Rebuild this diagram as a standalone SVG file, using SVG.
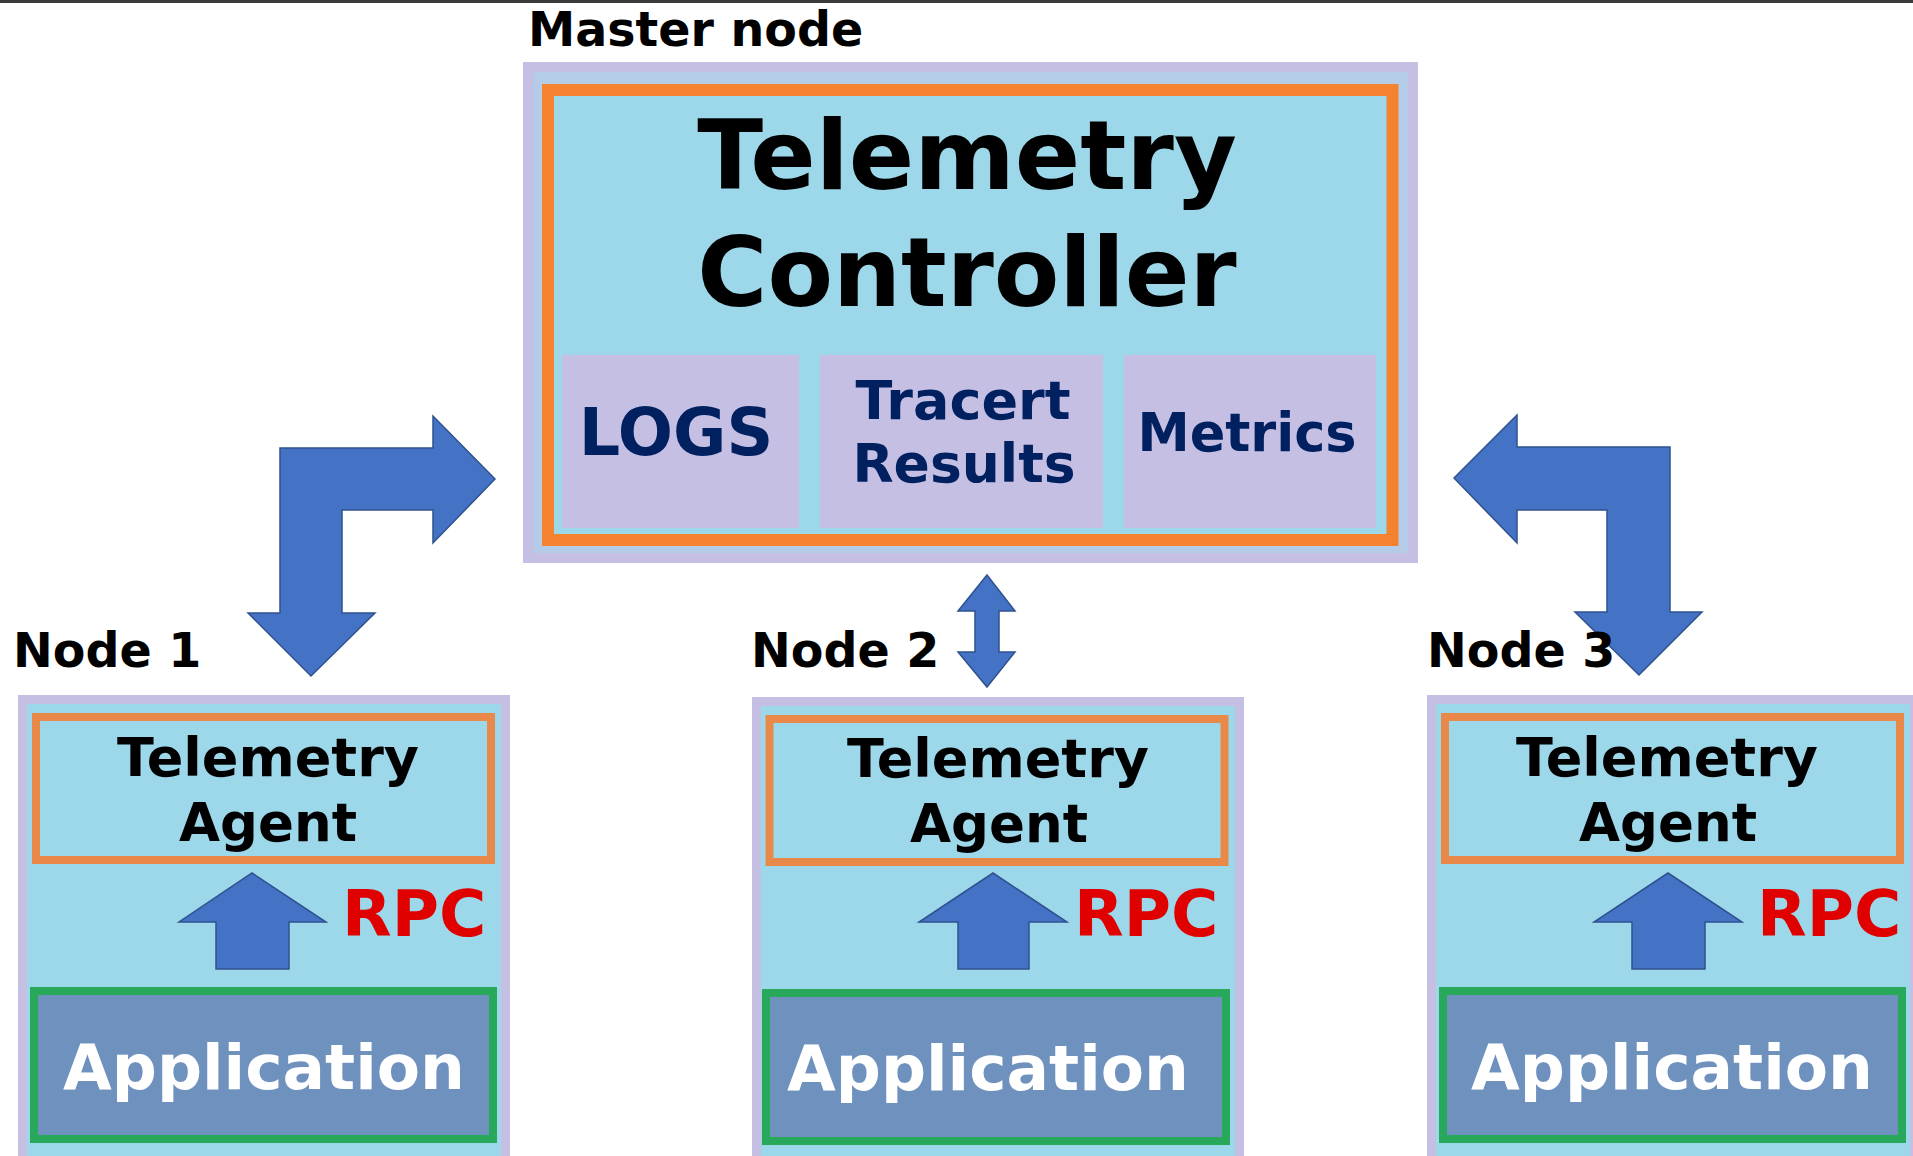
<svg xmlns="http://www.w3.org/2000/svg" width="1913" height="1156" viewBox="0 0 1913 1156">
<style>
text{font-family:"DejaVu Sans","Verdana","Liberation Sans",sans-serif;font-weight:bold}
.lav{fill:#C6BFE4}
.lb{fill:#9CD8EA}
.sub{fill:#C6BFE4}
.navy{fill:#002060}
.blk{fill:#000}
.red{fill:#E00000}
.wht{fill:#fff}
.arr{fill:#4472C4;stroke:#2F528F;stroke-width:1.5;stroke-linejoin:miter}
.agent{fill:#9CD8EA;stroke:#E8894A;stroke-width:8}
.app{fill:#6F91BE;stroke:#28A85A;stroke-width:8}
</style>
<rect x="0" y="0" width="1913" height="1156" fill="#fff"/>
<rect x="0" y="0" width="1913" height="3" fill="#3a3a3a"/>

<g id="master">
<text x="528" y="46" font-size="47.5" class="blk">Master node</text>
<rect x="523" y="62" width="895" height="501" class="lav"/>
<rect x="533" y="72" width="875" height="481" fill="#B4CCE8"/>
<rect x="548" y="90" width="844.5" height="450" fill="#9CD8EA" stroke="#F5822F" stroke-width="12"/>
<text x="967" y="189" font-size="96.5" text-anchor="middle" class="blk">Telemetry</text>
<text x="967" y="306" font-size="95.5" text-anchor="middle" class="blk">Controller</text>
<g id="logs">
<rect x="562" y="355" width="237" height="173" class="sub"/>
<text x="676" y="455" font-size="65" text-anchor="middle" class="navy">LOGS</text>
</g>
<g id="tracert">
<rect x="820" y="355" width="283" height="173" class="sub"/>
<text x="963" y="419" font-size="54" text-anchor="middle" class="navy">Tracert</text>
<text x="964" y="482" font-size="53.5" text-anchor="middle" class="navy">Results</text>
</g>
<g id="metrics">
<rect x="1124" y="355" width="252" height="173" class="sub"/>
<text x="1247" y="451" font-size="52.5" text-anchor="middle" class="navy">Metrics</text>
</g>
</g>

<g id="node1">
<rect x="18" y="695" width="492" height="470" class="lav"/>
<rect x="27" y="704" width="474" height="470" class="lb"/>
<rect x="36" y="717" width="455" height="143" class="agent"/>
<text x="268" y="776" font-size="54" text-anchor="middle" class="blk">Telemetry</text>
<text x="268" y="841" font-size="53" text-anchor="middle" class="blk">Agent</text>
<polygon class="arr" points="252,873 326,922 289,922 289,969 216,969 216,922 179,922"/>
<text x="342" y="936" font-size="64.5" class="red">RPC</text>
<rect x="34" y="991" width="459" height="148" class="app"/>
<text x="264" y="1089" font-size="63" text-anchor="middle" class="wht">Application</text>
</g>

<g id="node2">
<rect x="752" y="697" width="492" height="470" class="lav"/>
<rect x="761" y="706" width="474" height="470" class="lb"/>
<rect x="769.5" y="719" width="455" height="143" class="agent"/>
<text x="998" y="777" font-size="54" text-anchor="middle" class="blk">Telemetry</text>
<text x="999" y="842" font-size="53" text-anchor="middle" class="blk">Agent</text>
<polygon class="arr" points="993,873 1067,922 1029,922 1029,969 958,969 958,922 919,922"/>
<text x="1074" y="936" font-size="64.5" class="red">RPC</text>
<rect x="766" y="993" width="460" height="148" class="app"/>
<text x="988" y="1090" font-size="63" text-anchor="middle" class="wht">Application</text>
</g>

<g id="node3">
<rect x="1427" y="695" width="492" height="470" class="lav"/>
<rect x="1436" y="704" width="474" height="470" class="lb"/>
<rect x="1445" y="717" width="455" height="143" class="agent"/>
<text x="1667" y="776" font-size="54" text-anchor="middle" class="blk">Telemetry</text>
<text x="1668" y="841" font-size="53" text-anchor="middle" class="blk">Agent</text>
<polygon class="arr" points="1668,873 1742,922 1705,922 1705,969 1632,969 1632,922 1594,922"/>
<text x="1757" y="936" font-size="64.5" class="red">RPC</text>
<rect x="1443" y="991" width="459" height="148" class="app"/>
<text x="1672" y="1089" font-size="63" text-anchor="middle" class="wht">Application</text>
</g>

<g id="connectors">
<polygon class="arr" points="280,448 433,448 433,416 495,479 433,543 433,510 342,510 342,613 375,613 311,676 248,613 280,613"/>
<polygon class="arr" points="1454,478 1517,415 1517,447 1670,447 1670,612 1702,612 1639,675 1575,612 1607,612 1607,510 1517,510 1517,543"/>
<polygon class="arr" points="987,575 1015,611 999,611 999,652 1015,652 987,687 958,652 975,652 975,611 958,611"/>
</g>

<g id="labels">
<text x="13" y="667" font-size="47.5" class="blk">Node 1</text>
<text x="751" y="667" font-size="47.5" class="blk">Node 2</text>
<text x="1427" y="667" font-size="47.5" class="blk">Node 3</text>
</g>
</svg>
